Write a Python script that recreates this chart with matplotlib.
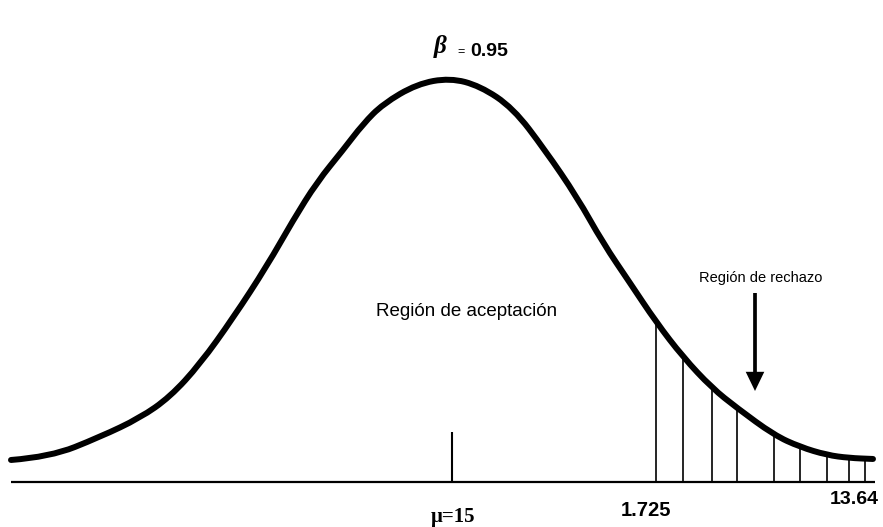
import matplotlib
matplotlib.use("Agg")
import matplotlib.pyplot as plt
from matplotlib.path import Path
from matplotlib.patches import PathPatch
import numpy as np

# ---- data (z-units along x, density along y) ----
curve_z = [-3.070, -2.797, -2.448, -2.168, -1.958, -1.748, -1.517, -1.280, -1.098,
           -0.930, -0.748, -0.608, -0.469, -0.231, 0.000, 0.210, 0.441, 0.664,
           0.888, 1.070, 1.259, 1.441, 1.629, 1.832, 2.007, 2.266, 2.448, 2.636,
           2.790, 2.958]
curve_y = [0.0218, 0.0248, 0.0446, 0.0634, 0.0842, 0.1168, 0.1624, 0.2139, 0.2590,
           0.2970, 0.3287, 0.3545, 0.3743, 0.3941, 0.4000, 0.3921, 0.3703, 0.3287,
           0.2822, 0.2366, 0.1970, 0.1584, 0.1238, 0.0931, 0.0733, 0.0465, 0.0347,
           0.0267, 0.0238, 0.0228]

hatch_z = [1.441, 1.629, 1.832, 2.007, 2.266, 2.448, 2.636, 2.790, 2.902]
hatch_top = [0.1584, 0.1238, 0.0931, 0.0733, 0.0465, 0.0347, 0.0257, 0.0228, 0.0228]

mean_z = 0.014
mean_top = 0.0495
base_start, base_end = -3.070, 2.972

beta_label = "β"
beta_value = "0.95"
label_mu = "μ=15"
label_crit = "1.725"
label_end = "13.64"
label_accept = "Región de aceptación"
label_reject = "Región de rechazo"


def X(px):
    return (px - 450) / 143.0


def Y(py):
    return (482 - py) * 0.4 / 404.0


fig = plt.figure(figsize=(8.83, 5.27), dpi=100)
ax = fig.add_axes([0, 0, 1, 1])
ax.set_xlim(X(0), X(883))
ax.set_ylim(Y(527), Y(0))
ax.axis("off")

# baseline
ax.hlines(0, base_start, base_end, color="black", lw=1.6)
# hatch lines in rejection region
ax.vlines(hatch_z, 0, hatch_top, color="black", lw=1.2)
# mean line
ax.vlines(mean_z, 0, mean_top, color="black", lw=1.5)

# curve: smooth quadratic Bezier path through the read points
pts = np.column_stack([curve_z, curve_y])
verts = [pts[0]]
codes = [Path.MOVETO]
for i in range(1, len(pts) - 1):
    mid = (pts[i] + pts[i + 1]) / 2.0
    verts += [pts[i], mid]
    codes += [Path.CURVE3, Path.CURVE3]
verts.append(pts[-1])
codes.append(Path.LINETO)
ax.add_patch(PathPatch(Path(verts, codes), fill=False, edgecolor="black",
                       lw=4.3, capstyle="round", joinstyle="round"))

# arrow
ax.arrow(X(755), Y(293), 0, Y(391) - Y(293), width=0.026, head_width=0.13,
         head_length=0.019, length_includes_head=True, color="black", lw=0)

sans = "Liberation Sans"
serif = "Liberation Serif"
ax.text(X(761), Y(278), label_reject, ha="center", va="center", fontsize=10.5,
        family=sans)
ax.text(X(467), Y(312), label_accept, ha="center", va="center", fontsize=13.5,
        family=sans)
ax.text(X(440), Y(46), beta_label, ha="center", va="center", fontsize=18,
        family=serif, style="italic", weight="bold")
ax.text(X(461), Y(52), "=", ha="center", va="center", fontsize=9, family=sans)
ax.text(X(489), Y(51), beta_value, ha="center", va="center", fontsize=14,
        family=sans, weight="bold")
ax.text(X(646), Y(510), label_crit, ha="center", va="center", fontsize=14.5,
        family=sans, weight="bold")
ax.text(X(854), Y(500), label_end, ha="center", va="center", fontsize=14,
        family=sans, weight="bold")
ax.text(X(453), Y(517), label_mu, ha="center", va="center", fontsize=15,
        family=serif, weight="bold")

fig.savefig("out.png", dpi=100)
